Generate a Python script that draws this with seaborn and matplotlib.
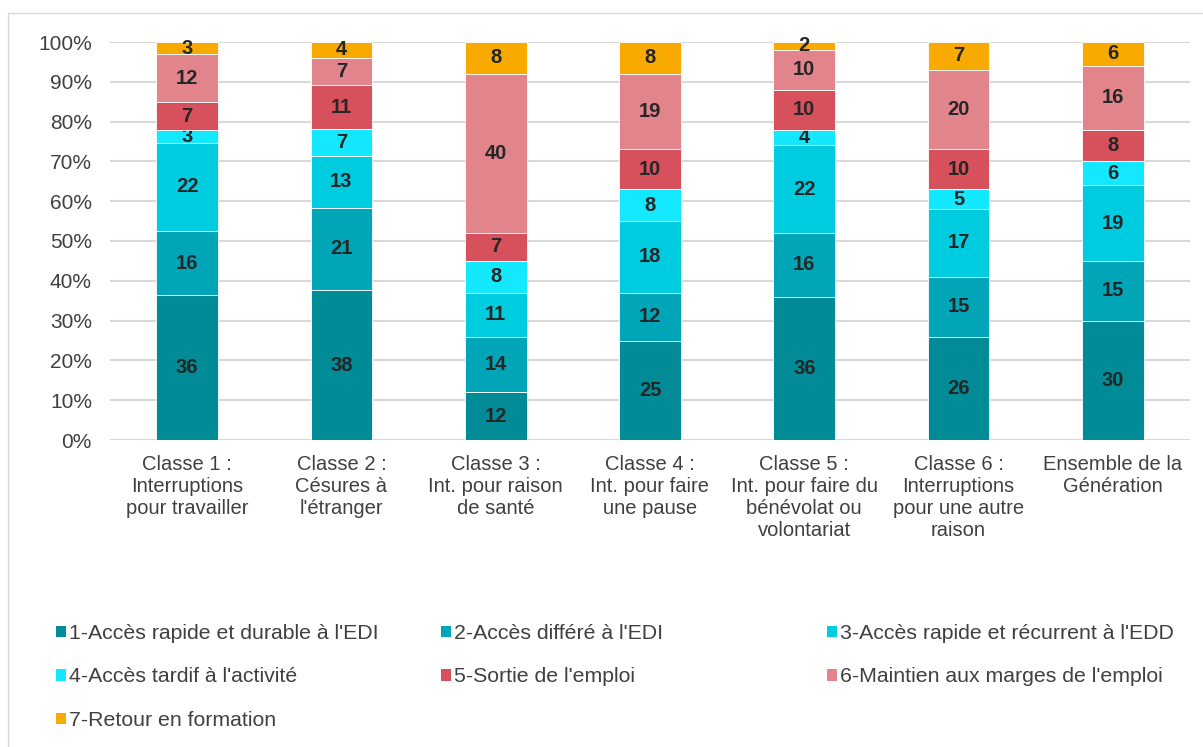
import numpy as np
import pandas as pd
import matplotlib.pyplot as plt
import seaborn as sns
from matplotlib.patches import Patch, Rectangle

# data
categories = ["Classe 1 :\nInterruptions\npour travailler",
              "Classe 2 :\nCésures à\nl'étranger",
              "Classe 3 :\nInt. pour raison\nde santé",
              "Classe 4 :\nInt. pour faire\nune pause",
              "Classe 5 :\nInt. pour faire du\nbénévolat ou\nvolontariat",
              "Classe 6 :\nInterruptions\npour une autre\nraison",
              "Ensemble de la\nGénération"]
series = ["1-Accès rapide et durable à l'EDI",
          "2-Accès différé à l'EDI",
          "3-Accès rapide et récurrent à l'EDD",
          "4-Accès tardif à l'activité",
          "5-Sortie de l'emploi",
          "6-Maintien aux marges de l'emploi",
          "7-Retour en formation"]
acces_rapide_edi = [36, 38, 12, 25, 36, 26, 30]
acces_differe = [16, 21, 14, 12, 16, 15, 15]
acces_recurrent = [22, 13, 11, 18, 22, 17, 19]
acces_tardif = [3, 7, 8, 8, 4, 5, 6]
sortie_emploi = [7, 11, 7, 10, 10, 10, 8]
marges_emploi = [12, 7, 40, 19, 10, 20, 16]
retour_formation = [3, 4, 8, 8, 2, 7, 6]
colors = ["#008B96", "#00A5B8", "#00CCE0", "#14E8FF", "#D6515C", "#E2848B", "#F9AA00"]

values = [acces_rapide_edi, acces_differe, acces_recurrent, acces_tardif,
          sortie_emploi, marges_emploi, retour_formation]

df = pd.DataFrame({s: v for s, v in zip(series, values)})
df["cat"] = categories
totals = df[series].sum(axis=1)

sns.set_style("white")
plt.rcParams['font.family'] = ['Liberation Sans', 'DejaVu Sans']

fig = plt.figure(figsize=(12.03, 7.47), dpi=100)
ax = fig.add_axes([110 / 1203, 1 - 440 / 747, 1080 / 1203, 398 / 747])

bottom = np.zeros(len(categories))
for s, c in zip(series, colors):
    pct = df[s] / totals * 100
    sns.barplot(x=df["cat"], y=pct, color=c, saturation=1, bottom=bottom, width=0.4,
                ax=ax, edgecolor="white", linewidth=0.6, zorder=3)
    cont = ax.containers[-1]
    ax.bar_label(cont, labels=[str(v) for v in df[s]], label_type="center",
                 fontsize=14.5, fontweight="bold", color="#262626")
    bottom = bottom + pct.values

ax.set_xlim(-0.5, 6.5)
ax.set_ylim(0, 100)
ax.set_yticks(np.arange(0, 101, 10))
ax.set_yticklabels([f"{t}%" for t in range(0, 101, 10)])
ax.yaxis.grid(True, color="#D9D9D9", linewidth=1.5, zorder=0)
ax.set_axisbelow(True)
for sp in ax.spines.values():
    sp.set_visible(False)
ax.tick_params(axis="both", length=0, colors="#404040")
ax.tick_params(axis="y", pad=13, labelsize=15)
ax.tick_params(axis="x", pad=11, labelsize=14.5)
ax.set_xlabel("")
ax.set_ylabel("")

# legend in three columns, row order like the original
cols = [[0, 3, 6], [1, 4], [2, 5]]
xpos = [56 / 1203, 441 / 1203, 827 / 1203]
for idx, x in zip(cols, xpos):
    handles = [Patch(facecolor=colors[i], edgecolor="none") for i in idx]
    labels = [series[i] for i in idx]
    fig.legend(handles, labels, loc="upper left", bbox_to_anchor=(x, 1 - 624 / 747),
               frameon=False, fontsize=15.3, handlelength=0.45, handleheight=0.45,
               handletextpad=0.15, labelspacing=1.15, borderpad=0, borderaxespad=0,
               labelcolor="#404040")

fig.patches.append(Rectangle((8 / 1203, -0.1), 1.2, 1.1 - 13 / 747, fill=False,
                             edgecolor="#D9D9D9", linewidth=1,
                             transform=fig.transFigure, figure=fig))

fig.savefig("out.png", dpi=100)
